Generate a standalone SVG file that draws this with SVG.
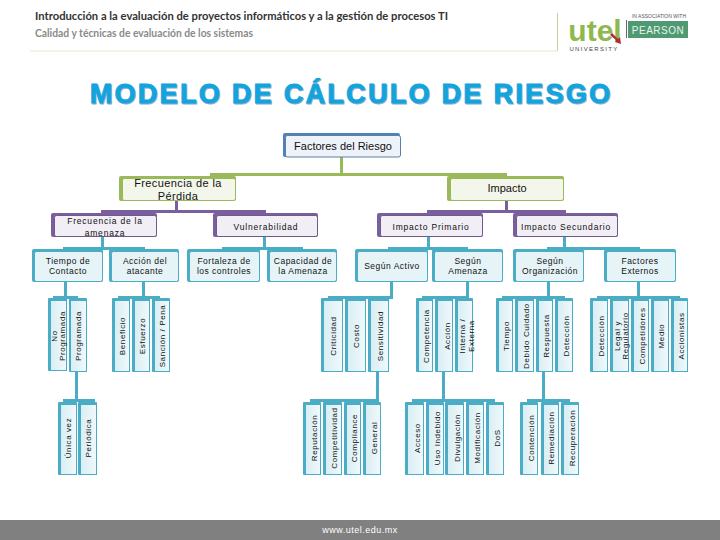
<svg xmlns="http://www.w3.org/2000/svg" width="720" height="540" viewBox="0 0 720 540">
<defs>
<linearGradient id="tg" x1="0" y1="0" x2="1" y2="0"><stop offset="0" stop-color="#d8eef4"/><stop offset="1" stop-color="#f0f9fb"/></linearGradient>
<style>
text{font-family:"Liberation Sans",Arial,sans-serif;fill:#111;text-anchor:middle}
.hb{fill:#eef2f9;stroke:#5b7fa8;stroke-width:1}
.l{fill:#f3f6ea;stroke:#9aba59;stroke-width:1}
.p{fill:#f1eef6;stroke:#70588f;stroke-width:1}
.c{fill:#e6f4f8;stroke:#4bacc6;stroke-width:1}
.w{fill:url(#tg);stroke:#4bacc6;stroke-width:1}
.g{fill:#9aba59}.pu{fill:#7a5f9e}.t{fill:#4bacc6}.bl{fill:#4f81bd}
.s{font-size:8.500px;letter-spacing:.5px}
.m{font-size:8.500px;letter-spacing:.8px}
.v{font-size:8px;letter-spacing:.6px}
</style></defs>
<rect width="720" height="540" fill="#fff"/>
<g id="header">
<text x="35" y="20" textLength="413" lengthAdjust="spacingAndGlyphs" style="text-anchor:start;font-size:11.500px;font-weight:bold;font-family:Lato,sans-serif;fill:#333">Introducción a la evaluación de proyectos informáticos y a la gestión de procesos TI</text>
<text x="35" y="37" textLength="218" lengthAdjust="spacingAndGlyphs" style="text-anchor:start;font-size:10.500px;font-weight:bold;font-family:Lato,sans-serif;fill:#8a8a8a">Calidad y técnicas de evaluación de los sistemas</text>
<rect x="30" y="50.500" width="527" height="1" fill="#e4e8d8"/>
</g>
<g id="logo">
<rect x="557" y="13" width="1" height="38" fill="#c3d39e"/>
<text x="595" y="41" style="font-size:30px;font-weight:bold;fill:#8fb84e">utel</text>
<path d="M612 33l6 6 2-2 1 7-6-2 1-2-6-5z" fill="#b02a30"/>
<text x="594" y="50.500" style="font-size:6px;letter-spacing:1.300px;fill:#444">UNIVERSITY</text>
<rect x="626" y="20" width="1" height="18" fill="#666"/>
<text x="659" y="18" style="font-size:5px;fill:#555">IN ASSOCIATION WITH</text>
<rect x="628" y="21" width="60" height="17" fill="#4f9a72"/>
<text x="658" y="33.500" style="font-size:10px;fill:#e8f3ec;letter-spacing:.5px">PEARSON</text>
</g>
<text x="352" y="104" style="font-size:27px;font-weight:bold;fill:#8ea9cc;stroke:#8ea9cc;stroke-width:.8px;letter-spacing:2.300px">MODELO DE CÁLCULO DE RIESGO</text>
<text id="title" x="351" y="103" style="font-size:27px;font-weight:bold;fill:#11a4dd;stroke:#11a4dd;stroke-width:.8px;letter-spacing:2.300px">MODELO DE CÁLCULO DE RIESGO</text>
<g id="connectors">
<rect class="g" x="340" y="157" width="3" height="17"/>
<rect class="g" x="210" y="173" width="297" height="3"/>
<rect class="pu" x="175" y="201" width="3" height="10"/>
<rect class="pu" x="101" y="210" width="165" height="3"/>
<rect class="pu" x="505" y="201" width="3" height="10"/>
<rect class="pu" x="427" y="210" width="139" height="3"/>
<rect class="t" x="101" y="237" width="3" height="11"/>
<rect class="t" x="63" y="247" width="82" height="3"/>
<rect class="t" x="263" y="237" width="3" height="11"/>
<rect class="t" x="222" y="247" width="81" height="3"/>
<rect class="t" x="427" y="237" width="3" height="11"/>
<rect class="t" x="388" y="247" width="80" height="3"/>
<rect class="t" x="563" y="237" width="3" height="11"/>
<rect class="t" x="547" y="247" width="93" height="3"/>
<rect class="t" x="64" y="282" width="3" height="15"/><rect class="t" x="53" y="296" width="25" height="3"/>
<rect class="t" x="142" y="282" width="3" height="15"/><rect class="t" x="118" y="296" width="42" height="3"/>
<rect class="t" x="390" y="282" width="3" height="16"/><rect class="t" x="328" y="296" width="65" height="3"/>
<rect class="t" x="466" y="282" width="3" height="15"/><rect class="t" x="422" y="296" width="47" height="3"/>
<rect class="t" x="547" y="282" width="3" height="15"/><rect class="t" x="502" y="296" width="63" height="3"/>
<rect class="t" x="637" y="282" width="3" height="15"/><rect class="t" x="597" y="296" width="83" height="3"/>
<rect class="t" x="75" y="372" width="3" height="28"/><rect class="t" x="63" y="399" width="32" height="3"/>
<rect class="t" x="376" y="372" width="3" height="28"/><rect class="t" x="310" y="399" width="69" height="3"/>
<rect class="t" x="442" y="372" width="3" height="28"/><rect class="t" x="412" y="399" width="83" height="3"/>
<rect class="t" x="542" y="372" width="3" height="28"/><rect class="t" x="527" y="399" width="43" height="3"/>
</g>
<g id="n-factores"><rect class="bl" x="283" y="133" width="117" height="24" rx="2"/><rect class="hb" x="285.500" y="135.500" width="115" height="21.500" rx="2"/><text x="343" y="150" style="font-size:11px">Factores del Riesgo</text></g>
<g id="n-frecuencia"><rect class="g" x="119" y="176" width="117" height="25" rx="2"/><rect class="l" x="122.500" y="178.500" width="113" height="22" rx="2"/><text x="178" y="186.500" style="font-size:11px;letter-spacing:.4px">Frecuencia de la</text><text x="178" y="200" style="font-size:11px;letter-spacing:.4px">Pérdida</text></g>
<g id="n-impacto"><rect class="g" x="447" y="176" width="117" height="25" rx="2"/><rect class="l" x="450.500" y="178.500" width="113" height="22" rx="2"/><text x="507" y="192" style="font-size:11px">Impacto</text></g>
<g id="n-frec-amenaza"><rect class="pu" x="51" y="213" width="106" height="24" rx="2"/><rect class="p" x="54.500" y="215.500" width="102" height="21" rx="2"/><text x="105" y="224" class="m">Frecuencia de la</text><text x="105" y="235.500" class="m">amenaza</text></g>
<g id="n-vuln"><rect class="pu" x="213" y="213" width="105" height="24" rx="2"/><rect class="p" x="216.500" y="215.500" width="101" height="21" rx="2"/><text x="266" y="230" class="m">Vulnerabilidad</text></g>
<g id="n-primario"><rect class="pu" x="377" y="213" width="106" height="24" rx="2"/><rect class="p" x="380.500" y="215.500" width="102" height="21" rx="2"/><text x="431" y="230" class="m">Impacto Primario</text></g>
<g id="n-secundario"><rect class="pu" x="513" y="213" width="105" height="24" rx="2"/><rect class="p" x="516.500" y="215.500" width="101" height="21" rx="2"/><text x="566" y="230" class="m">Impacto Secundario</text></g>
<g id="n-tiempo"><rect class="t" x="32" y="249" width="71" height="33" rx="2"/><rect class="c" x="34.500" y="251.500" width="68" height="30" rx="2"/><text x="68" y="264" class="s">Tiempo de</text><text x="68" y="274" class="s">Contacto</text></g>
<g id="n-accion"><rect class="t" x="109" y="249" width="70" height="33" rx="2"/><rect class="c" x="111.500" y="251.500" width="67" height="30" rx="2"/><text x="145" y="264" class="s">Acción del</text><text x="145" y="274" class="s">atacante</text></g>
<g id="n-fortaleza"><rect class="t" x="187" y="249" width="73" height="33" rx="2"/><rect class="c" x="189.500" y="251.500" width="70" height="30" rx="2"/><text x="224" y="264" class="s">Fortaleza de</text><text x="224" y="274" class="s">los controles</text></g>
<g id="n-capacidad"><rect class="t" x="267" y="249" width="70" height="33" rx="2"/><rect class="c" x="269.500" y="251.500" width="67" height="30" rx="2"/><text x="303" y="264" class="s">Capacidad de</text><text x="303" y="274" class="s">la Amenaza</text></g>
<g id="n-activo"><rect class="t" x="355" y="249" width="73" height="33" rx="2"/><rect class="c" x="357.500" y="251.500" width="70" height="30" rx="2"/><text x="392" y="269" class="s">Según Activo</text></g>
<g id="n-segamenaza"><rect class="t" x="432" y="249" width="71" height="33" rx="2"/><rect class="c" x="434.500" y="251.500" width="68" height="30" rx="2"/><text x="468" y="264" class="s">Según</text><text x="468" y="274" class="s">Amenaza</text></g>
<g id="n-organizacion"><rect class="t" x="513" y="249" width="71" height="33" rx="2"/><rect class="c" x="515.500" y="251.500" width="68" height="30" rx="2"/><text x="550" y="264" class="s">Según</text><text x="550" y="274" class="s">Organización</text></g>
<g id="n-externos"><rect class="t" x="604" y="249" width="72" height="33" rx="2"/><rect class="c" x="606.500" y="251.500" width="69" height="30" rx="2"/><text x="640" y="264" class="s">Factores</text><text x="640" y="274" class="s">Externos</text></g>

<g id="n-noprog"><rect class="t" x="48" y="298" width="19" height="73" rx="1"/><rect class="w" x="50.500" y="300.500" width="16" height="70"/><text transform="translate(57 336) rotate(-90)" class="v">No</text><text transform="translate(65 336) rotate(-90)" class="v">Programada</text></g>
<g id="n-prog"><rect class="t" x="69" y="298" width="18" height="74" rx="1"/><rect class="w" x="70.500" y="300.500" width="16" height="71"/><text transform="translate(81 336) rotate(-90)" class="v">Programada</text></g>
<g id="n-beneficio"><rect class="t" x="112" y="298" width="18" height="74" rx="1"/><rect class="w" x="114.500" y="300.500" width="15" height="71"/><text transform="translate(125 336) rotate(-90)" class="v">Beneficio</text></g>
<g id="n-esfuerzo"><rect class="t" x="132" y="298" width="18" height="74" rx="1"/><rect class="w" x="134.500" y="300.500" width="15" height="71"/><text transform="translate(145 336) rotate(-90)" class="v">Esfuerzo</text></g>
<g id="n-sancion"><rect class="t" x="152" y="298" width="18" height="74" rx="1"/><rect class="w" x="154.500" y="300.500" width="15" height="71"/><text transform="translate(165 336) rotate(-90)" class="v">Sanción / Pena</text></g>
<g id="n-criticidad"><rect class="t" x="321" y="298" width="22" height="74" rx="1"/><rect class="w" x="323.500" y="300.500" width="19" height="71"/><text transform="translate(336 336) rotate(-90)" class="v">Criticidad</text></g>
<g id="n-costo"><rect class="t" x="345" y="298" width="21" height="74" rx="1"/><rect class="w" x="347.500" y="300.500" width="18" height="71"/><text transform="translate(359 336) rotate(-90)" class="v">Costo</text></g>
<g id="n-sensitividad"><rect class="t" x="368" y="298" width="21" height="74" rx="1"/><rect class="w" x="370.500" y="300.500" width="18" height="71"/><text transform="translate(383 336) rotate(-90)" class="v">Sensitividad</text></g>
<g id="n-competencia"><rect class="t" x="416" y="298" width="17" height="74" rx="1"/><rect class="w" x="418.500" y="300.500" width="14" height="71"/><text transform="translate(429 336) rotate(-90)" class="v">Competencia</text></g>
<g id="n-accion2"><rect class="t" x="435" y="298" width="18" height="74" rx="1"/><rect class="w" x="437.500" y="300.500" width="15" height="71"/><text transform="translate(450 336) rotate(-90)" class="v">Acción</text></g>
<g id="n-interna"><rect class="t" x="455" y="298" width="18" height="74" rx="1"/><rect class="w" x="457.500" y="300.500" width="15" height="71"/><text transform="translate(465 336) rotate(-90)" class="v">Interna /</text><text transform="translate(474 336) rotate(-90)" class="v">Externa</text></g>
<g id="n-tiempo2"><rect class="t" x="496" y="298" width="17" height="74" rx="1"/><rect class="w" x="498.500" y="300.500" width="14" height="71"/><text transform="translate(509 336) rotate(-90)" class="v">Tiempo</text></g>
<g id="n-debido"><rect class="t" x="515" y="298" width="19" height="74" rx="1"/><rect class="w" x="517.500" y="300.500" width="16" height="71"/><text transform="translate(529 336) rotate(-90)" class="v">Debido Cuidado</text></g>
<g id="n-respuesta"><rect class="t" x="536" y="298" width="17" height="74" rx="1"/><rect class="w" x="538.500" y="300.500" width="14" height="71"/><text transform="translate(549 336) rotate(-90)" class="v">Respuesta</text></g>
<g id="n-deteccion"><rect class="t" x="555" y="298" width="18" height="74" rx="1"/><rect class="w" x="557.500" y="300.500" width="15" height="71"/><text transform="translate(569 336) rotate(-90)" class="v">Detección</text></g>
<g id="n-deteccion2"><rect class="t" x="590" y="298" width="18" height="74" rx="1"/><rect class="w" x="592.500" y="300.500" width="15" height="71"/><text transform="translate(604 336) rotate(-90)" class="v">Detección</text></g>
<g id="n-legal"><rect class="t" x="610" y="298" width="19" height="74" rx="1"/><rect class="w" x="612.500" y="300.500" width="16" height="71"/><text transform="translate(620 336) rotate(-90)" class="v">Legal y</text><text transform="translate(628 336) rotate(-90)" class="v">Regulatorio</text></g>
<g id="n-competidores"><rect class="t" x="631" y="298" width="18" height="74" rx="1"/><rect class="w" x="633.500" y="300.500" width="15" height="71"/><text transform="translate(645 336) rotate(-90)" class="v">Competidores</text></g>
<g id="n-medio"><rect class="t" x="651" y="298" width="18" height="74" rx="1"/><rect class="w" x="653.500" y="300.500" width="15" height="71"/><text transform="translate(664 336) rotate(-90)" class="v">Medio</text></g>
<g id="n-accionistas"><rect class="t" x="671" y="298" width="17" height="74" rx="1"/><rect class="w" x="673.500" y="300.500" width="14" height="71"/><text transform="translate(684 336) rotate(-90)" class="v">Accionistas</text></g>

<g id="n-unica"><rect class="t" x="58" y="402" width="19" height="73" rx="1"/><rect class="w" x="60.500" y="404.500" width="16" height="70"/><text transform="translate(71 438) rotate(-90)" class="v">Única vez</text></g>
<g id="n-periodica"><rect class="t" x="78" y="402" width="19" height="73" rx="1"/><rect class="w" x="80.500" y="404.500" width="16" height="70"/><text transform="translate(91 438) rotate(-90)" class="v">Periódica</text></g>
<g id="n-reputacion"><rect class="t" x="303" y="402" width="18" height="73" rx="1"/><rect class="w" x="305.500" y="404.500" width="15" height="70"/><text transform="translate(317 438) rotate(-90)" class="v">Reputación</text></g>
<g id="n-competitividad"><rect class="t" x="323" y="402" width="19" height="73" rx="1"/><rect class="w" x="325.500" y="404.500" width="16" height="70"/><text transform="translate(337 438) rotate(-90)" class="v">Competitividad</text></g>
<g id="n-compliance"><rect class="t" x="344" y="402" width="17" height="73" rx="1"/><rect class="w" x="346.500" y="404.500" width="14" height="70"/><text transform="translate(357 438) rotate(-90)" class="v">Compliance</text></g>
<g id="n-general"><rect class="t" x="363" y="402" width="18" height="73" rx="1"/><rect class="w" x="365.500" y="404.500" width="15" height="70"/><text transform="translate(377 438) rotate(-90)" class="v">General</text></g>
<g id="n-acceso"><rect class="t" x="405" y="402" width="19" height="73" rx="1"/><rect class="w" x="407.500" y="404.500" width="16" height="70"/><text transform="translate(420 438) rotate(-90)" class="v">Acceso</text></g>
<g id="n-uso"><rect class="t" x="426" y="402" width="18" height="73" rx="1"/><rect class="w" x="428.500" y="404.500" width="15" height="70"/><text transform="translate(440 438) rotate(-90)" class="v">Uso Indebido</text></g>
<g id="n-divulgacion"><rect class="t" x="445" y="402" width="19" height="73" rx="1"/><rect class="w" x="447.500" y="404.500" width="16" height="70"/><text transform="translate(460 438) rotate(-90)" class="v">Divulgación</text></g>
<g id="n-modificacion"><rect class="t" x="466" y="402" width="18" height="73" rx="1"/><rect class="w" x="468.500" y="404.500" width="15" height="70"/><text transform="translate(480 438) rotate(-90)" class="v">Modificación</text></g>
<g id="n-dos"><rect class="t" x="486" y="402" width="18" height="73" rx="1"/><rect class="w" x="488.500" y="404.500" width="15" height="70"/><text transform="translate(500 438) rotate(-90)" class="v">DoS</text></g>
<g id="n-contencion"><rect class="t" x="520" y="402" width="18" height="73" rx="1"/><rect class="w" x="522.500" y="404.500" width="15" height="70"/><text transform="translate(534 438) rotate(-90)" class="v">Contención</text></g>
<g id="n-remediacion"><rect class="t" x="541" y="402" width="18" height="73" rx="1"/><rect class="w" x="543.500" y="404.500" width="15" height="70"/><text transform="translate(554 438) rotate(-90)" class="v">Remediación</text></g>
<g id="n-recuperacion"><rect class="t" x="561" y="402" width="18" height="73" rx="1"/><rect class="w" x="563.500" y="404.500" width="15" height="70"/><text transform="translate(575 438) rotate(-90)" class="v">Recuperación</text></g>

<g id="footer"><rect x="0" y="520" width="720" height="20" fill="#808080"/><text x="360" y="533" style="font-size:9px;letter-spacing:.5px;fill:#fff">www.utel.edu.mx</text></g>
</svg>
